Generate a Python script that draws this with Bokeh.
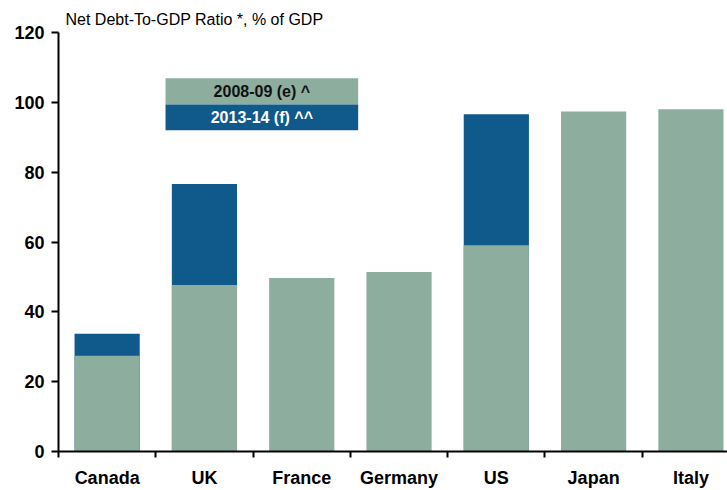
from bokeh.plotting import figure
from bokeh.models import Range1d, FixedTicker, BoxAnnotation, Label
from bokeh.embed import file_html
from bokeh.resources import INLINE

countries = ["Canada", "UK", "France", "Germany", "US", "Japan", "Italy"]
debt_2008_09 = [27.4, 47.7, 49.7, 51.4, 59.1, 97.4, 98.0]
debt_2013_14 = [33.7, 76.6, None, None, 96.6, None, None]
y_ticks = [0, 20, 40, 60, 80, 100, 120]
legend_labels = ["2008-09 (e) ^", "2013-14 (f) ^^"]
title_text = "Net Debt-To-GDP Ratio *, % of GDP"

GREEN = "#8DAE9F"
BLUE = "#0F5A8A"
FONT = "Liberation Sans"

centers = [i + 0.5 for i in range(len(countries))]

p = figure(width=727, height=490, output_backend="svg", toolbar_location=None,
           x_range=Range1d(0, 6.876), y_range=Range1d(0, 120),
           min_border_left=58, min_border_right=0, min_border_top=32, min_border_bottom=0,
           title=title_text)
p.outline_line_color = None
p.xgrid.visible = False
p.ygrid.visible = False
p.background_fill_color = "white"

p.title.text_font = FONT
p.title.text_font_size = "16px"
p.title.text_font_style = "normal"
p.title.text_color = "black"
p.title.offset = 7
p.title.standoff = 8
p.title.vertical_align = "middle"

# bars: 2013-14 behind, 2008-09 in front
blue_x = [c for c, v in zip(centers, debt_2013_14) if v is not None]
blue_top = [v for v in debt_2013_14 if v is not None]
p.vbar(x=blue_x, top=blue_top, bottom=0, width=0.67, fill_color=BLUE, line_color=None)
p.vbar(x=centers, top=debt_2008_09, bottom=0, width=0.67, fill_color=GREEN, line_color=None)

# axes
xa = p.xaxis[0]
xa.ticker = FixedTicker(ticks=centers, minor_ticks=list(range(len(countries))))
xa.major_label_overrides = {c: n for c, n in zip(centers, countries)}
xa.major_tick_out = 0
xa.major_tick_in = 0
xa.minor_tick_out = 6
xa.minor_tick_in = 0
xa.minor_tick_line_width = 2
xa.minor_tick_line_color = "black"
xa.axis_line_width = 2
xa.axis_line_color = "black"
xa.major_label_text_font = FONT
xa.major_label_text_font_size = "18px"
xa.major_label_text_font_style = "bold"
xa.major_label_text_color = "black"
xa.major_label_standoff = 10

ya = p.yaxis[0]
ya.ticker = FixedTicker(ticks=y_ticks, minor_ticks=[])
ya.major_tick_out = 7
ya.major_tick_in = 0
ya.major_tick_line_width = 2
ya.major_tick_line_color = "black"
ya.axis_line_width = 2
ya.axis_line_color = "black"
ya.major_label_text_font = FONT
ya.major_label_text_font_size = "18px"
ya.major_label_text_font_style = "bold"
ya.major_label_text_color = "black"
ya.major_label_standoff = 7

# legend boxes
p.add_layout(BoxAnnotation(left=1.10, right=3.08, bottom=99.4, top=106.9,
                           fill_color=GREEN, fill_alpha=1, line_color=None))
p.add_layout(BoxAnnotation(left=1.10, right=3.08, bottom=92.0, top=99.4,
                           fill_color=BLUE, fill_alpha=1, line_color=None))
p.add_layout(Label(x=2.09, y=103.15, text=legend_labels[0], text_align="center",
                   text_baseline="middle", text_font=FONT, text_font_size="16px",
                   text_font_style="bold", text_color="#111111", level="overlay"))
p.add_layout(Label(x=2.09, y=95.7, text=legend_labels[1], text_align="center",
                   text_baseline="middle", text_font=FONT, text_font_size="16px",
                   text_font_style="bold", text_color="white", level="overlay"))

open("out.html", "w").write(file_html(p, INLINE))
